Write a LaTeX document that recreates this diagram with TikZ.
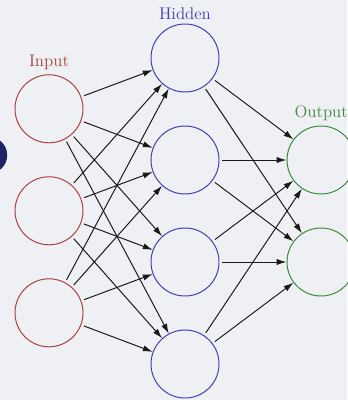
\documentclass[tikz,border=0pt]{standalone}
\usepackage{tikz}
\usetikzlibrary{arrows.meta}
\definecolor{inred}{RGB}{170,64,64}
\definecolor{hidblue}{RGB}{64,64,180}
\definecolor{outgreen}{RGB}{60,136,60}
\definecolor{bggray}{RGB}{239,240,243}
\definecolor{navyblob}{RGB}{28,34,100}

\begin{document}
\begin{tikzpicture}
\useasboundingbox (0,0) rectangle (8.675,-10);
\fill[bggray] (0,0) rectangle (8.675,-10);
\begin{scope}
    \clip (0,0) rectangle (8.675,-10);
    \fill[navyblob] (-0.28,-3.88) circle (0.46);
\end{scope}

\begin{scope}[every node/.style={circle,draw,line width=0.7pt,minimum size=1.7cm}]
    \node (I1)[draw=inred] at (1.225,-2.72) {};
    \node (I2)[draw=inred] at (1.225,-5.27) {};
    \node (I3)[draw=inred] at (1.225,-7.82) {};
    \node (H1)[draw=hidblue] at (4.625,-1.45) {};
    \node (H2)[draw=hidblue] at (4.625,-4.0) {};
    \node (H3)[draw=hidblue] at (4.625,-6.55) {};
    \node (H4)[draw=hidblue] at (4.625,-9.1) {};
    \node (O1)[draw=outgreen] at (8.025,-4.0) {};
    \node (O2)[draw=outgreen] at (8.025,-6.55) {};
\end{scope}

\node (inlabel)[inred,font=\large] at (1.225,-1.55) {Input};
\node (hidlabel)[hidblue,font=\large] at (4.625,-0.35) {Hidden};
\node (outlabel)[outgreen,font=\large] at (8.03,-2.82) {Output};

\begin{scope}[every edge/.style={draw=black!90,line width=0.7pt,
              -{Latex[length=7pt,width=4.4pt]},shorten <=2pt}]
    \path  (I1) edge (H1);
    \path  (I1) edge (H2);
    \path  (I1) edge (H3);
    \path  (I1) edge (H4);
    \path  (I2) edge (H1);
    \path  (I2) edge (H2);
    \path  (I2) edge (H3);
    \path  (I2) edge (H4);
    \path  (I3) edge (H1);
    \path  (I3) edge (H2);
    \path  (I3) edge (H3);
    \path  (I3) edge (H4);
    \path  (H1) edge (O1);
    \path  (H1) edge (O2);
    \path  (H2) edge (O1);
    \path  (H2) edge (O2);
    \path  (H3) edge (O1);
    \path  (H3) edge (O2);
    \path  (H4) edge (O1);
    \path  (H4) edge (O2);
\end{scope}
\end{tikzpicture}
\end{document}
